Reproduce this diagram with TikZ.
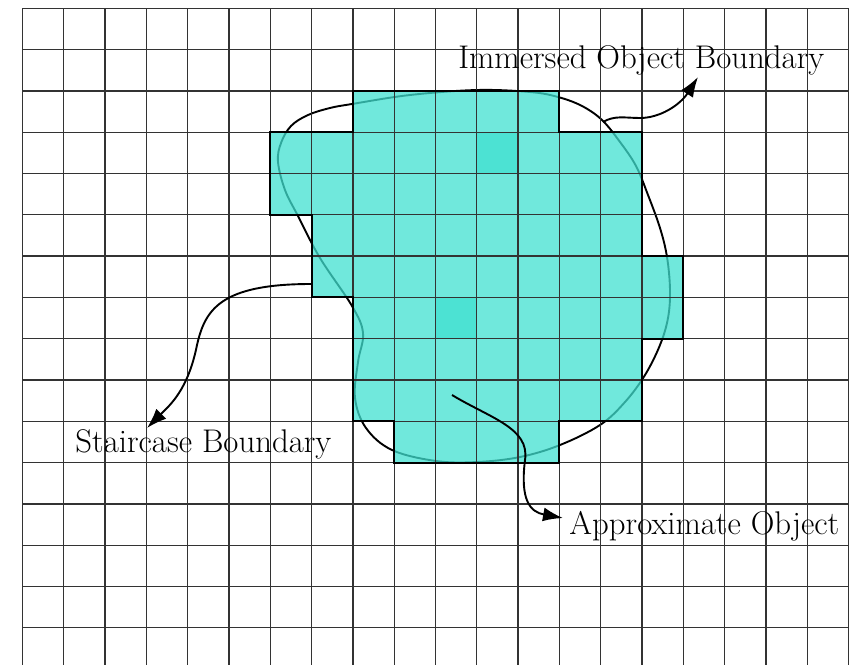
\documentclass[tikz,border=0pt]{standalone}
\usepackage{fontspec}
\usetikzlibrary{arrows.meta}
\definecolor{cellfill}{RGB}{64,224,208}
\begin{document}
\begin{tikzpicture}[x=0.5pt,y=-0.5pt,
  gridline/.style={line width=0.65pt, black!80},
  cellbox/.style={fill=cellfill, fill opacity=0.75},
  stairline/.style={line width=1pt, black, line join=miter},
  bcurve/.style={line width=0.95pt, black},
  pointer/.style={line width=0.95pt, black, -{Latex[length=10pt,width=7pt]}},
  lbl/.style={inner sep=0pt, anchor=base west, font=\fontsize{16.4}{19}\selectfont}]
\useasboundingbox (0,0) rectangle (866,664);
\clip (0,0) rectangle (866,664);
% immersed boundary curve
\draw[bcurve] plot[smooth cycle, tension=0.6] coordinates {
 (477,90) (530,92) (558,97) (582,106) (602,120) (620,142) (636,166)
 (648,195) (660,228) (667,257) (670,290) (668,318) (660,345) (645,375)
 (625,402) (600,425) (560,445) (520,457) (477,462) (436,461) (392,450)
 (366,428) (355,398) (358,362) (363,333) (352,306) (320,258) (298,216)
 (285,190) (278,162) (281,143) (291,126) (308,115) (330,108) (352,104)
 (410,95)};
\begin{scope}[shift={(22.5,8.3)}, x=20.65pt, y=-20.65pt]
  \foreach \r/\a/\b in {2/8/12, 3/6/14, 4/6/14, 5/7/14, 6/7/15, 7/8/15, 8/8/14, 9/8/14, 10/9/12}
    \foreach \c in {\a,...,\b}
      \fill[cellbox] (\c,\r) rectangle ++(1,1);
  \fill[cellbox] (11,3) rectangle ++(1,1);
  \fill[cellbox] (10,7) rectangle ++(1,1);
  \foreach \i in {0,...,20} \draw[gridline] (\i,0) -- (\i,16);
  \foreach \j in {0,...,15} \draw[gridline] (0,\j) -- (20,\j);
  \draw[stairline] (8,2) -- (13,2) -- (13,3) -- (15,3) -- (15,6) -- (16,6) -- (16,8)
    -- (15,8) -- (15,10) -- (13,10) -- (13,11) -- (9,11) -- (9,10) -- (8,10)
    -- (8,7) -- (7,7) -- (7,5) -- (6,5) -- (6,3) -- (8,3) -- cycle;
\end{scope}
% labels
\node[lbl] (imm) at (458,68) {Immersed Object Boundary};
\node[lbl] (stair) at (75,452.7) {Staircase Boundary};
\node[lbl] (approx) at (569,534.7) {Approximate Object};
% arrow coordinates
\coordinate (iA) at (603,122);
\coordinate (iM) at (640,118);
\coordinate (iT) at (698,77);
\coordinate (sA) at (311,284);
\coordinate (sM) at (197,345);
\coordinate (sT) at (147,428);
\coordinate (aA) at (452,395);
\coordinate (aM) at (525,460);
\coordinate (aT) at (563,518);
\draw[pointer] (iA) .. controls (615,115) and (625,118) .. (iM)
  .. controls (660,118) and (680,105) .. (iT);
\draw[pointer] (sA) .. controls (220,284) and (205,310) .. (sM)
  .. controls (188,390) and (170,405) .. (sT);
\draw[pointer] (aA) .. controls (490,418) and (530,428) .. (aM)
  .. controls (520,500) and (530,512) .. (aT);
\end{tikzpicture}
\end{document}
